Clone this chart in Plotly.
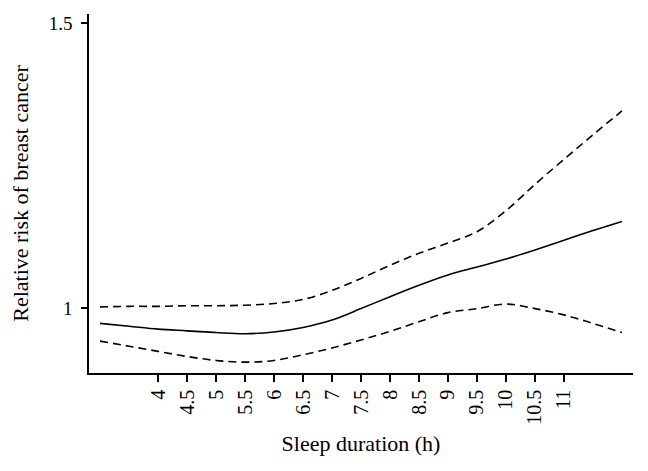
import plotly.graph_objects as go

# Sleep duration (h) and relative risk estimates
sleep_hours = [3, 3.5, 4, 4.5, 5, 5.5, 6, 6.5, 7, 7.5, 8, 8.5, 9, 9.5, 10, 10.5, 11, 11.5, 12]
rr = [0.973, 0.968, 0.963, 0.960, 0.957, 0.955, 0.958, 0.966, 0.979, 0.999, 1.020,
      1.040, 1.058, 1.072, 1.086, 1.102, 1.119, 1.136, 1.152]
rr_upper = [1.002, 1.003, 1.003, 1.004, 1.004, 1.005, 1.008, 1.015, 1.031, 1.052, 1.075,
            1.096, 1.114, 1.134, 1.171, 1.217, 1.261, 1.304, 1.346]
rr_lower = [0.942, 0.933, 0.924, 0.915, 0.908, 0.905, 0.908, 0.918, 0.930, 0.944, 0.959,
            0.976, 0.992, 0.999, 1.007, 0.999, 0.988, 0.973, 0.957]

x_ticks = [4, 4.5, 5, 5.5, 6, 6.5, 7, 7.5, 8, 8.5, 9, 9.5, 10, 10.5, 11]
y_ticks = [1, 1.5]

font_family = "Liberation Serif"

fig = go.Figure()

fig.add_trace(go.Scatter(x=sleep_hours, y=rr_upper, mode="lines",
                         line=dict(color="black", width=1.6, dash="8px,5px", shape="spline")))
fig.add_trace(go.Scatter(x=sleep_hours, y=rr, mode="lines",
                         line=dict(color="black", width=1.6, shape="spline")))
fig.add_trace(go.Scatter(x=sleep_hours, y=rr_lower, mode="lines",
                         line=dict(color="black", width=1.6, dash="8px,5px", shape="spline")))

# the page body has an 8px margin, so the margins below are shifted to compensate
fig.update_layout(
    width=648, height=471,
    showlegend=False,
    plot_bgcolor="white", paper_bgcolor="white",
    margin=dict(l=81, r=23, t=6, b=106),
    font=dict(family=font_family, size=21, color="black"),
)

fig.update_xaxes(
    range=[2.81, 12.19], automargin=False,
    tickvals=x_ticks, ticktext=[f"{v:g}" for v in x_ticks],
    tickangle=-90,
    ticks="outside", ticklen=7, tickwidth=1.5, tickcolor="black",
    showline=True, linecolor="black", linewidth=1.5,
    showgrid=False, zeroline=False,
    tickfont=dict(size=20),
    title=dict(text="Sleep duration (h)", font=dict(size=22), standoff=12),
)
fig.update_yaxes(
    range=[0.886, 1.516], automargin=False,
    tickvals=y_ticks, ticktext=["1", "1.5"],
    ticks="outside", ticklen=6, tickwidth=1.5, tickcolor="black",
    ticklabelstandoff=5,
    showline=True, linecolor="black", linewidth=1.5,
    showgrid=False, zeroline=False,
    tickfont=dict(size=19),
    title=dict(text="Relative risk of breast cancer", font=dict(size=22), standoff=20),
)

fig.write_html("out.html")
